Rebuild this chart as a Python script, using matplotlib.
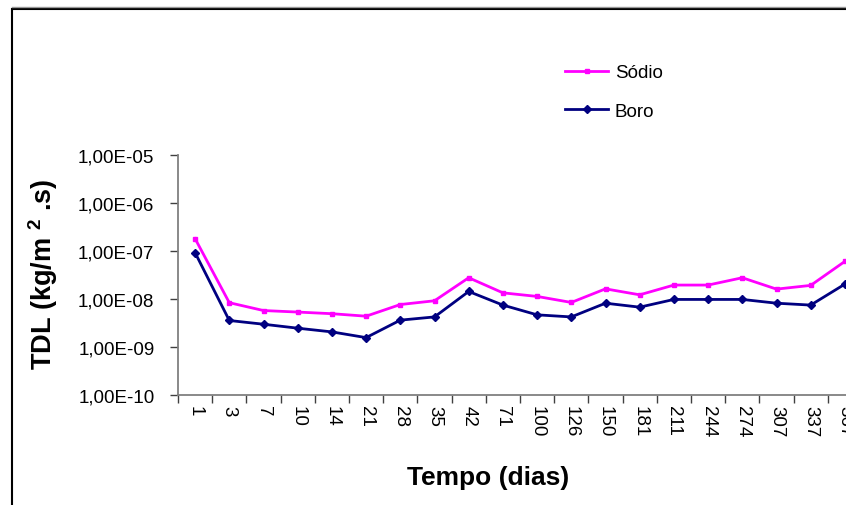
import numpy as np
import matplotlib
matplotlib.use("Agg")
import matplotlib.pyplot as plt
from matplotlib.patches import Rectangle
from matplotlib.lines import Line2D
from matplotlib.ticker import NullLocator, FixedLocator

plt.rcParams["font.family"] = ["Liberation Sans", "DejaVu Sans"]
plt.rcParams["mathtext.fontset"] = "custom"
plt.rcParams["mathtext.rm"] = "Liberation Sans"
plt.rcParams["mathtext.bf"] = "Liberation Sans:bold"

# Dias de ensaio e taxas de lixiviacao (kg/m2.s)
dias = ["1", "3", "7", "10", "14", "21", "28", "35", "42", "71", "100",
        "126", "150", "181", "211", "244", "274", "307", "337", "367"]
sodio = [1.78e-7, 8.3e-9, 5.7e-9, 5.3e-9, 4.9e-9, 4.35e-9, 7.6e-9, 9.1e-9,
         2.74e-8, 1.33e-8, 1.12e-8, 8.4e-9, 1.61e-8, 1.21e-8, 1.93e-8,
         1.93e-8, 2.74e-8, 1.59e-8, 1.90e-8, 6.0e-8]
boro = [9.1e-8, 3.54e-9, 2.96e-9, 2.45e-9, 2.05e-9, 1.56e-9, 3.6e-9, 4.2e-9,
        1.42e-8, 7.4e-9, 4.64e-9, 4.2e-9, 8.1e-9, 6.7e-9, 9.7e-9, 9.7e-9,
        9.7e-9, 8.1e-9, 7.4e-9, 2.02e-8]
y_ticks = [1e-10, 1e-9, 1e-8, 1e-7, 1e-6, 1e-5]
y_labels = ["1,00E-10", "1,00E-09", "1,00E-08", "1,00E-07", "1,00E-06",
            "1,00E-05"]

W, H = 846, 506
fig = plt.figure(figsize=(W / 100, H / 100), dpi=100)
# area do grafico (passa um pouco da borda direita)
ax = fig.add_axes([178 / W, 110 / H, 684 / W, 240.5 / H])

x = np.arange(len(dias))
ax.plot(x, sodio, color="#FF00FF", lw=2, marker="s", ms=3,
        label="Sódio")
ax.plot(x, boro, color="#000080", lw=2, marker="D", ms=4,
        label="Boro")

ax.set_yscale("log")
ax.set_ylim(1e-10, 1e-5)
ax.yaxis.set_major_locator(FixedLocator(y_ticks))
ax.yaxis.set_minor_locator(NullLocator())
ax.set_yticks(y_ticks, y_labels)
ax.tick_params(axis="y", direction="out", length=6, width=1,
               color="#404040", pad=11, labelsize=13.5)

ax.set_xlim(-0.5, len(dias) - 0.5)
ax.set_xticks(np.arange(-0.5, len(dias)), [])
ax.set_xticks(x, dias, minor=True, rotation=270)
ax.tick_params(axis="x", which="major", direction="out", length=6,
               width=1, color="#404040")
ax.tick_params(axis="x", which="minor", length=0, pad=7, labelsize=13.5)

for s in ["top", "right"]:
    ax.spines[s].set_visible(False)
for s in ["left", "bottom"]:
    ax.spines[s].set_color("#808080")
    ax.spines[s].set_linewidth(1.3)

ax.set_ylabel("TDL (kg/m $^{\\mathbf{2}}$ .s)", fontsize=19.5,
              fontweight="bold")
ax.yaxis.set_label_coords(-0.172, 0.507)
ax.set_xlabel("Tempo (dias)", fontsize=19, fontweight="bold")
ax.xaxis.set_label_coords(0.453, -0.29)

fig.legend(loc="upper left", bbox_to_anchor=(565 / W, 1 - 65 / H),
           frameon=False, fontsize=13.5, handlelength=2.3,
           handletextpad=0.35, labelspacing=1.15, borderpad=0,
           borderaxespad=0)

# moldura da area do grafico
fig.add_artist(Rectangle((12 / W, -0.1), 1.2, 1.1 - 9.5 / H,
                         transform=fig.transFigure, fill=False,
                         ec="black", lw=1.5))
fig.add_artist(Line2D([12 / W, 1], [1 - 8 / H, 1 - 8 / H],
                      transform=fig.transFigure, color="#999999", lw=1))

fig.savefig("out.png", dpi=100)
